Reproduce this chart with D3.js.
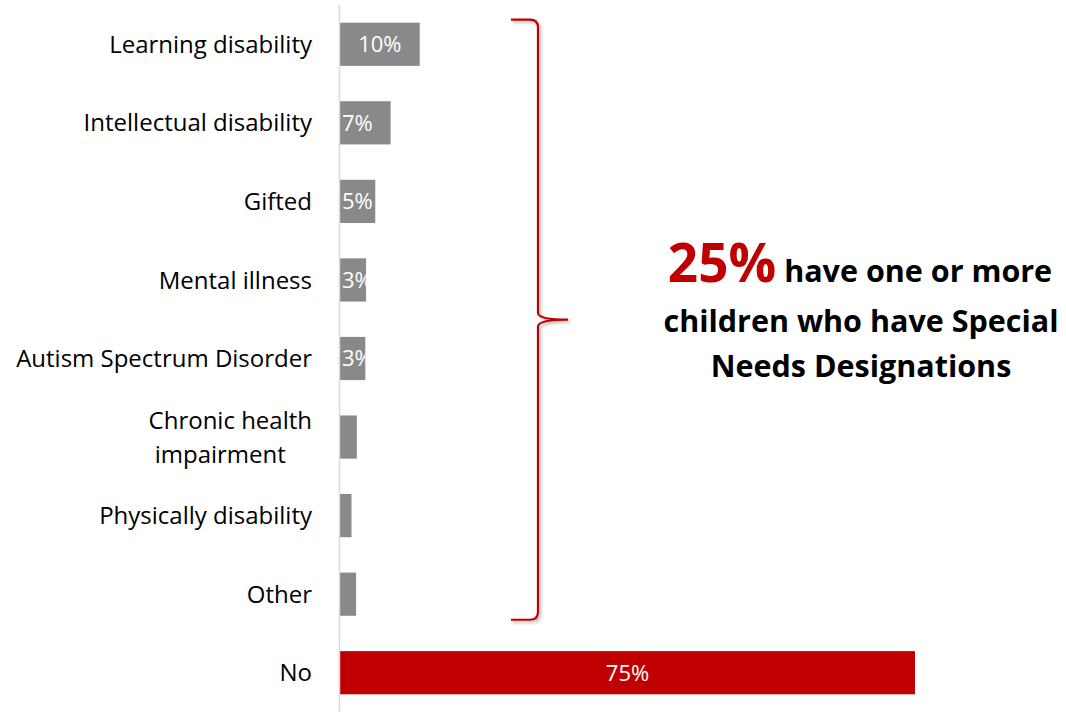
<!DOCTYPE html>
<html>
<head>
<meta charset="utf-8">
<script src="https://cdn.jsdelivr.net/npm/d3@7"></script>
<style>
html,body{margin:0;padding:0;background:#fff;}
svg{display:block;}
</style>
</head>
<body>
<svg id="chart" width="1066" height="712"></svg>
<script>
const categories = ["Learning disability","Intellectual disability","Gifted","Mental illness","Autism Spectrum Disorder","Chronic health impairment","Physically disability","Other","No"];
const values = [10.4, 6.6, 4.6, 3.4, 3.3, 2.2, 1.5, 2.1, 75];
const valueLabels = ["10%","7%","5%","3%","3%","","","","75%"];
const highlight = [false,false,false,false,false,false,false,false,true];
const annotationBig = "25%";
const annotationLines = ["have one or more","children who have Special","Needs Designations"];

(function(){
const W = 1066, H = 712;
const svg = d3.select("#chart");
const FONT = "'Open Sans', 'Noto Sans', sans-serif";

const x = d3.scaleLinear().domain([0, 75]).range([340, 915]);
const y = d3.scaleBand().domain(categories).range([5, 712]).paddingInner(0.45).paddingOuter(0.225);

const defs = svg.append("defs");
const f = defs.append("filter").attr("id","shadow").attr("x","-50%").attr("y","-10%").attr("width","200%").attr("height","120%");
f.append("feDropShadow").attr("dx",2).attr("dy",2).attr("stdDeviation",1.5).attr("flood-color","#000").attr("flood-opacity",0.3);

categories.forEach((c,i)=>{
  defs.append("clipPath").attr("id","clip"+i).append("rect")
    .attr("x", x(0)).attr("y", y(c)).attr("width", x(values[i]) - x(0)).attr("height", y.bandwidth());
});

// bars
svg.append("g").selectAll("rect").data(categories).join("rect")
  .attr("x", x(0))
  .attr("y", d => y(d))
  .attr("width", (d,i) => x(values[i]) - x(0))
  .attr("height", y.bandwidth())
  .attr("fill", (d,i) => highlight[i] ? "#c00000" : "#898989");

// axis line
svg.append("line").attr("x1", 339.5).attr("x2", 339.5).attr("y1", 5).attr("y2", H)
  .attr("stroke", "#d9d9d9").attr("stroke-width", 1.5);

// value labels
const lbl = svg.append("g");
categories.forEach((c,i)=>{
  if(!valueLabels[i]) return;
  const w = x(values[i]) - x(0);
  const centered = w > 60;
  lbl.append("text")
    .attr("clip-path", `url(#clip${i})`)
    .attr("x", centered ? x(values[i]/2) : x(0) + 2)
    .attr("y", y(c) + y.bandwidth()/2)
    .attr("dy", "0.36em")
    .attr("text-anchor", centered ? "middle" : "start")
    .attr("fill", "#fff")
    .style("font-family", FONT)
    .style("font-size", "22px")
    .text(valueLabels[i]);
});

// category labels
const LFS = "24px";
const cl = svg.append("g");
categories.forEach((c,i)=>{
  const cy = y(c) + y.bandwidth()/2;
  if (c === "Chronic health impairment") {
    const t1 = cl.append("text").attr("x", 312).attr("y", cy - 17).attr("dy","0.36em")
      .attr("text-anchor","end").style("font-family",FONT).style("font-size",LFS).attr("fill","#000")
      .text("Chronic health");
    const w1 = t1.node().getComputedTextLength();
    cl.append("text").attr("x", 312 - w1/2 - 10).attr("y", cy + 17).attr("dy","0.36em")
      .attr("text-anchor","middle").style("font-family",FONT).style("font-size",LFS).attr("fill","#000")
      .text("impairment");
  } else {
    cl.append("text").attr("x", 312).attr("y", cy).attr("dy","0.36em")
      .attr("text-anchor","end").style("font-family",FONT).style("font-size",LFS).attr("fill","#000")
      .text(c);
  }
});

// bracket
const bTop = y(categories[0]) - 3;
const bBot = y(categories[7]) + y.bandwidth() + 4;
const mid = (bTop + bBot)/2;
const bx0 = 511, bx1 = 538, bx2 = 568;
const p = d3.path();
p.moveTo(bx0, bTop);
p.lineTo(bx1 - 8, bTop);
p.quadraticCurveTo(bx1, bTop, bx1, bTop + 8);
p.lineTo(bx1, mid - 7);
p.quadraticCurveTo(bx1, mid, bx2, mid);
p.quadraticCurveTo(bx1, mid, bx1, mid + 7);
p.lineTo(bx1, bBot - 8);
p.quadraticCurveTo(bx1, bBot, bx1 - 8, bBot);
p.lineTo(bx0, bBot);
svg.append("path").attr("d", p.toString()).attr("fill","none").attr("stroke","#c00000")
  .attr("stroke-width", 2.2).attr("filter","url(#shadow)");

// annotation
const AFS = "30.5px";
const ann = svg.append("text").attr("x", 860).attr("y", 282).attr("text-anchor","middle")
  .style("font-family",FONT).style("font-weight","bold");
ann.append("tspan").attr("fill","#c00000").style("font-size","53px").text(annotationBig);
ann.append("tspan").attr("fill","#000").style("font-size",AFS).text(" " + annotationLines[0]);
svg.append("text").attr("x", 861).attr("y", 332).attr("text-anchor","middle")
  .style("font-family",FONT).style("font-weight","bold").style("font-size",AFS).attr("fill","#000")
  .text(annotationLines[1]);
svg.append("text").attr("x", 861).attr("y", 377).attr("text-anchor","middle")
  .style("font-family",FONT).style("font-weight","bold").style("font-size",AFS).attr("fill","#000")
  .text(annotationLines[2]);
})();
</script>
</body>
</html>
